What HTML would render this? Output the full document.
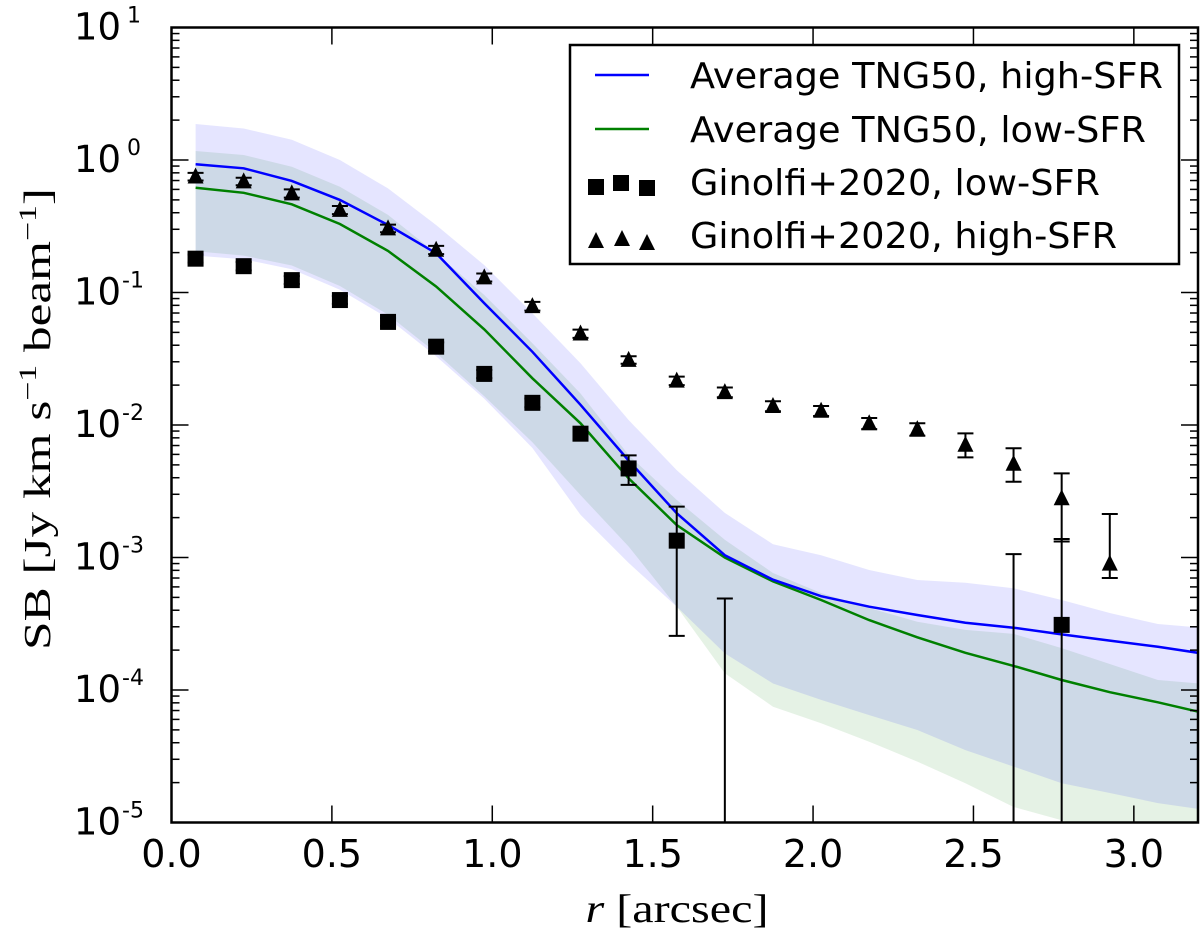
<!DOCTYPE html>
<html><head><meta charset="utf-8">
<style>
html,body{margin:0;padding:0;background:#fff;}
svg{display:block;font-family:"DejaVu Sans","Liberation Sans",sans-serif;}
</style></head>
<body>
<svg id="chart" width="1200" height="938" viewBox="0 0 1200 938">
<defs><clipPath id="plotclip"><rect x="171.5" y="27" width="1026.5" height="795.5"/></clipPath></defs>
<g id="bands" clip-path="url(#plotclip)"></g>
<g id="lines" clip-path="url(#plotclip)"></g>
<g id="points" clip-path="url(#plotclip)"></g>
<g id="axes"></g>
<g id="legend">
  <rect x="570" y="45" width="609" height="219" fill="#fff" stroke="#000" stroke-width="2.5"/>
  <line x1="595" y1="75" x2="649" y2="75" stroke="#0000ff" stroke-width="2.5"/>
  <text x="690" y="88" font-size="36" textLength="473" lengthAdjust="spacingAndGlyphs">Average TNG50, high-SFR</text>
  <line x1="595" y1="129" x2="649" y2="129" stroke="#008000" stroke-width="2.5"/>
  <text x="690" y="142" font-size="36" textLength="456" lengthAdjust="spacingAndGlyphs">Average TNG50, low-SFR</text>
  <rect x="588" y="179" width="16" height="16" fill="#000"/>
  <rect x="613" y="175" width="16" height="16" fill="#000"/>
  <rect x="639" y="180" width="16" height="16" fill="#000"/>
  <text x="690" y="195" font-size="36" textLength="410" lengthAdjust="spacingAndGlyphs">Ginolfi+2020, low-SFR</text>
  <polygon points="588,248 596,232 604,248" fill="#000"/>
  <polygon points="614,246 622,230 630,246" fill="#000"/>
  <polygon points="639,250 647,234 655,250" fill="#000"/>
  <text x="690" y="248" font-size="36" textLength="427" lengthAdjust="spacingAndGlyphs">Ginolfi+2020, high-SFR</text>
</g>
<text transform="translate(50,419) rotate(-90)" text-anchor="middle" font-family="'Liberation Serif',serif" font-size="38" textLength="462" lengthAdjust="spacingAndGlyphs">SB [Jy km s<tspan dy="-14" font-size="25">−1</tspan><tspan dy="14"> beam</tspan><tspan dy="-14" font-size="25">−1</tspan><tspan dy="14">]</tspan></text>
<text x="677" y="922" text-anchor="middle" font-family="'Liberation Serif',serif" font-size="40" textLength="183" lengthAdjust="spacingAndGlyphs"><tspan font-style="italic">r</tspan> [arcsec]</text>
</svg>
<script>
// ---- data ----
const rBins = [0.075,0.225,0.375,0.525,0.675,0.825,0.975,1.125,1.275,1.425,1.575,1.725,1.875,2.025,2.175,2.325,2.475,2.625,2.775,2.925,3.075,3.225];
const highLine = [0.93,0.865,0.695,0.50,0.323,0.198,0.083,0.0357,0.0142,0.0054,0.00216,0.00104,0.00068,0.00051,0.000425,0.000368,0.000322,0.000295,0.000263,0.000236,0.000212,0.000187];
const lowLine = [0.618,0.566,0.463,0.329,0.206,0.111,0.0527,0.0225,0.0103,0.00396,0.00176,0.001,0.00066,0.000478,0.000337,0.00025,0.000191,0.000152,0.000119,0.0000962,0.0000808,0.0000665];
const highBandUp = [1.87,1.73,1.42,1.0,0.61,0.323,0.161,0.0697,0.0292,0.0109,0.00457,0.00217,0.00126,0.00104,0.000805,0.000676,0.000645,0.000586,0.000478,0.000381,0.000315,0.000293];
const highBandLo = [0.19,0.178,0.15,0.105,0.064,0.033,0.0158,0.0067,0.0021,0.00091,0.000426,0.000189,0.000112,0.0000842,0.0000647,0.0000499,0.0000352,0.0000264,0.0000198,0.0000167,0.000014,0.0000124];
const lowBandUp = [1.17,1.09,0.889,0.628,0.385,0.198,0.0957,0.0414,0.0173,0.00594,0.00272,0.00136,0.000764,0.00054,0.000416,0.000327,0.000284,0.000265,0.000207,0.000157,0.000119,0.000111];
const lowBandLo = [0.205,0.19,0.16,0.112,0.068,0.035,0.0165,0.0074,0.00296,0.00121,0.000426,0.000134,0.0000748,0.0000561,0.0000407,0.0000288,0.0000198,0.0000131,0.0000104,0.0000081,0.0000062,0.0000052];
const obsR = [0.075,0.225,0.375,0.525,0.675,0.825,0.975,1.125,1.275,1.425,1.575,1.725,1.875,2.025,2.175,2.325,2.475,2.625,2.775,2.925];
const sqVal = [0.18,0.158,0.124,0.0877,0.060,0.039,0.0243,0.0147,0.0086,0.0047,0.00134,null,null,null,null,null,null,null,0.00031,null];
const sqHi = [0.193,0.17,0.133,0.094,0.064,0.042,0.026,0.0158,0.0093,0.0059,0.00242,0.00049,null,null,null,null,null,0.00106,0.00138,null];
const sqLo = [0.168,0.147,0.116,0.082,0.056,0.036,0.0226,0.0136,0.0079,0.00353,0.000256,0.000001,null,null,null,null,null,0.000001,0.000001,null];
const triVal = [0.75,0.69,0.56,0.42,0.305,0.21,0.13,0.079,0.049,0.031,0.0216,0.0177,0.0139,0.0128,0.0103,0.0093,0.0071,0.0051,0.0028,0.0009];
const triHi = [0.80,0.735,0.60,0.45,0.325,0.225,0.139,0.085,0.0525,0.033,0.0232,0.0192,0.0151,0.0139,0.0113,0.0103,0.00865,0.00667,0.00431,0.00213];
const triLo = [0.70,0.645,0.52,0.39,0.285,0.195,0.121,0.073,0.0455,0.029,0.0200,0.0162,0.0127,0.0117,0.0093,0.0083,0.0057,0.00373,0.00132,0.0007];
const xTicks = [0,0.5,1.0,1.5,2.0,2.5,3.0];
const xTickLabels = ["0.0","0.5","1.0","1.5","2.0","2.5","3.0"];
const yExps = [1,0,-1,-2,-3,-4,-5];

// ---- axes functions ----
const X0=171.5, X1=1198, Y0=822.5, Y1=27.5;
const xs = v => X0 + v*(X1-X0)/3.2;
const ys = v => Y0 - (Math.log10(v)+5)*(Y0-Y1)/6;
const NS="http://www.w3.org/2000/svg";
function mk(tag, attrs, parent){ const e=document.createElementNS(NS,tag); for(const k in attrs) e.setAttribute(k,attrs[k]); parent.appendChild(e); return e; }

const bands=document.getElementById('bands'), lines=document.getElementById('lines'), pts=document.getElementById('points'), axes=document.getElementById('axes');

function bandPath(up, lo){
  let d='';
  rBins.forEach((r,i)=>{ d += (i?'L':'M')+xs(r).toFixed(1)+','+ys(up[i]).toFixed(1); });
  for(let i=rBins.length-1;i>=0;i--) d += 'L'+xs(rBins[i]).toFixed(1)+','+ys(lo[i]).toFixed(1);
  return d+'Z';
}
const gb = mk('path',{d:bandPath(lowBandUp,lowBandLo),fill:'#008000','fill-opacity':0.1,stroke:'none'},bands);


const bb = mk('path',{d:bandPath(highBandUp,highBandLo),fill:'#0000ff','fill-opacity':0.1,stroke:'none'},bands);



function linePts(vals){ return rBins.map((r,i)=>xs(r).toFixed(1)+','+ys(vals[i]).toFixed(1)).join(' '); }
const gl = mk('polyline',{points:linePts(lowLine),fill:'none',stroke:'#008000','stroke-width':2.5},lines);


const bl = mk('polyline',{points:linePts(highLine),fill:'none',stroke:'#0000ff','stroke-width':2.5},lines);



function errBar(x, lo, hi, name){
  const g = mk('g',{stroke:'#000','stroke-width':2},pts);
  
  
  const yl = Math.min(ys(lo), 900), yh = ys(hi);
  mk('line',{x1:x,y1:yl,x2:x,y2:yh},g);
  mk('line',{x1:x-8,y1:yh,x2:x+8,y2:yh},g);
  if (yl < 820) mk('line',{x1:x-8,y1:yl,x2:x+8,y2:yl},g);
}
obsR.forEach((r,i)=>{
  const x = xs(r);
  if (sqHi[i]!==null) errBar(x, sqLo[i], sqHi[i], 'square-errorbar-'+i);
  if (sqVal[i]!==null){
    const s = mk('rect',{x:x-8,y:ys(sqVal[i])-8,width:16,height:16,fill:'#000'},pts);
    
    
  }
});
obsR.forEach((r,i)=>{
  const x = xs(r);
  errBar(x, triLo[i], triHi[i], 'triangle-errorbar-'+i);
  const y = ys(triVal[i]);
  const t = mk('polygon',{points:`${x-8},${y+7} ${x},${y-9} ${x+8},${y+7}`,fill:'#000'},pts);
  
  
});

// ticks
xTicks.forEach((v,i)=>{
  const x=xs(v);
  mk('line',{x1:x,y1:Y0,x2:x,y2:Y0-17,stroke:'#000','stroke-width':1.5},axes);
  mk('line',{x1:x,y1:Y1,x2:x,y2:Y1+17,stroke:'#000','stroke-width':1.5},axes);
  const t = mk('text',{x:x,y:867,'text-anchor':'middle','font-size':38},axes);
  t.textContent = xTickLabels[i];
  
  
});
yExps.forEach(e=>{
  const y=ys(Math.pow(10,e));
  mk('line',{x1:X0,y1:y,x2:X0+17,y2:y,stroke:'#000','stroke-width':1.5},axes);
  mk('line',{x1:X1,y1:y,x2:X1-17,y2:y,stroke:'#000','stroke-width':1.5},axes);
  if (e>-5) for(let m=2;m<=9;m++){
    const ym = ys(m*Math.pow(10,e-1));
    mk('line',{x1:X0,y1:ym,x2:X0+8,y2:ym,stroke:'#000','stroke-width':1.5},axes);
    mk('line',{x1:X1,y1:ym,x2:X1-8,y2:ym,stroke:'#000','stroke-width':1.5},axes);
  }
  const t = mk('text',{x:121,y:y+12,'text-anchor':'end','font-size':37},axes);
  t.textContent='10';
  
  
  const s = mk('text',{x:e<0?122:127,y:y-5,'font-size':22},axes);
  s.textContent = String(e);
  
  
});
const frame = mk('rect',{x:X0,y:Y1,width:X1-X0,height:Y0-Y1,fill:'none',stroke:'#000','stroke-width':2.5},axes);


</script>
</body></html>
